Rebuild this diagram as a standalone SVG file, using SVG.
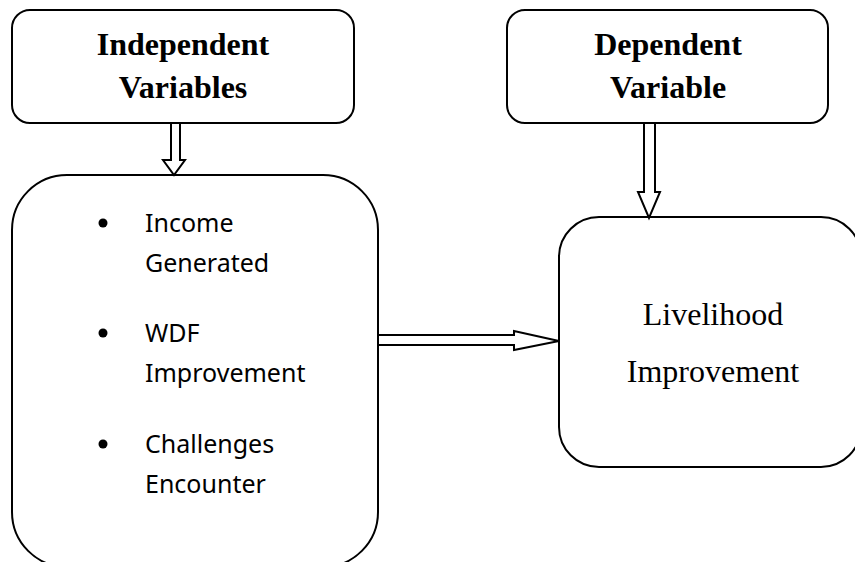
<svg xmlns="http://www.w3.org/2000/svg" width="855" height="562" viewBox="0 0 855 562">
<style>
.box{fill:#fff;stroke:#000;stroke-width:2}
.hd{font-family:"Liberation Serif","Times New Roman",serif;font-weight:bold;font-size:32px;fill:#000;text-anchor:middle}
.serif{font-family:"Liberation Serif","Times New Roman",serif;font-size:32px;fill:#000;text-anchor:middle}
.body{font-family:"Noto Sans","Open Sans",sans-serif;font-size:25px;fill:#000}
.arr{fill:#fff;stroke:#000;stroke-width:2;stroke-linejoin:miter}
</style>
<rect width="855" height="562" fill="#fff"/>
<g id="independent">
<rect class="box" x="12" y="10" width="342" height="113" rx="18" ry="18" stroke-width="2.5"/>
<text class="hd" x="183" y="55">Independent</text>
<text class="hd" x="183" y="98">Variables</text>
</g>
<g id="dependent">
<rect class="box" x="507" y="10" width="321" height="113" rx="18" ry="18" stroke-width="2.5"/>
<text class="hd" x="668" y="55">Dependent</text>
<text class="hd" x="668" y="98">Variable</text>
</g>
<g id="factors">
<rect class="box" x="12" y="175" width="366" height="392" rx="55" ry="55"/>
<circle cx="103" cy="223" r="4.5" fill="#000"/>
<circle cx="103" cy="333" r="4.5" fill="#000"/>
<circle cx="103" cy="444" r="4.5" fill="#000"/>
<text class="body" x="145" y="232">Income</text>
<text class="body" x="145" y="272">Generated</text>
<text class="body" x="145" y="342">WDF</text>
<text class="body" x="145" y="382">Improvement</text>
<text class="body" x="145" y="453">Challenges</text>
<text class="body" x="145" y="493">Encounter</text>
</g>
<g id="livelihood">
<rect class="box" x="559" y="217" width="302" height="250" rx="40" ry="40" stroke-width="2.5"/>
<text class="serif" x="713" y="325">Livelihood</text>
<text class="serif" x="713" y="382">Improvement</text>
</g>
<g id="connectors">
<polygon class="arr" points="171,123 180,123 180,160 185,160 174,175 163,160 171,160"/>
<polygon class="arr" points="644,123 655,123 655,192 660,192 649,218 638,192 644,192"/>
<polygon class="arr" points="378,335 514,335 514,331 559,341 514,350 514,345 378,345"/>
</g>
</svg>
